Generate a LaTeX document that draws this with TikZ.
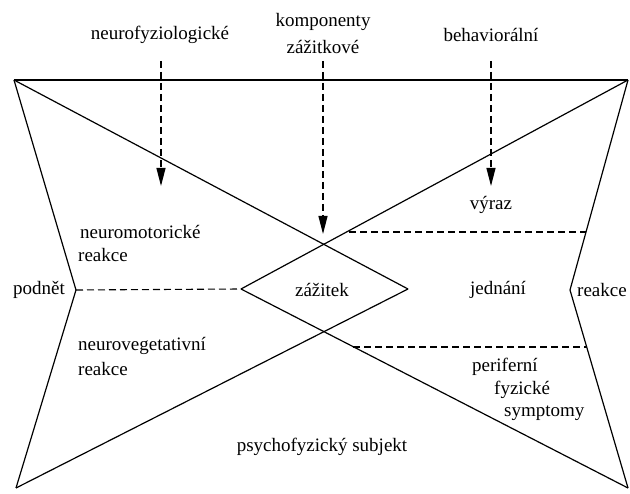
\documentclass[tikz,border=0pt]{standalone}
\usepackage{fontspec}
\setmainfont{Liberation Serif}
\usetikzlibrary{arrows.meta}
\begin{document}
\begin{tikzpicture}[x=1pt,y=-1pt,
  lbl/.style={inner sep=0pt,font=\fontsize{19}{22}\selectfont},
  lbll/.style={lbl,anchor=west},
  edge/.style={line width=1.2pt,line join=miter},
  dashline/.style={line width=1.1pt,dash pattern=on 7pt off 4pt},
  dasharrow/.style={dashline,-{Triangle[length=18pt,width=9pt]}}]
\useasboundingbox (0,0) rectangle (630,494);
% outline vertices
\coordinate (TL) at (14,80);
\coordinate (TR) at (628,80);
\coordinate (BL) at (16,488);
\coordinate (BR) at (628,488);
\coordinate (LM) at (76,290);
\coordinate (RM) at (570,290);
% diamond
\coordinate (DL) at (241,289);
\coordinate (DR) at (408,289);
\coordinate (DT) at (323,244);
\coordinate (DB) at (323,334);
% outline
\draw[edge] (TL) -- (TR);
\draw[edge] (TL) -- (LM) -- (BL);
\draw[edge] (TR) -- (RM) -- (BR);
% crossing lines
\draw[edge] (TL) -- (DR);
\draw[edge] (TR) -- (DL);
\draw[edge] (BL) -- (DR);
\draw[edge] (BR) -- (DL);
% dashed lines
\draw[dashline] (LM) -- (DL);
\coordinate (U1) at (349,232);
\coordinate (U2) at (586,232);
\coordinate (L1) at (353,347);
\coordinate (L2) at (587,347);
\draw[dashline] (U1) -- (U2);
\draw[dashline] (L1) -- (L2);
% labels
\node[lbl] (nf) at (160,35) {neurofyziologické};
\node[lbl] (komp) at (323,22) {komponenty};
\node[lbl] (zaz) at (323,47) {zážitkové};
\node[lbl] (beh) at (491,35) {behaviorální};
\node[lbl] (vyraz) at (491,205) {výraz};
\node[lbll] (nm1) at (80,232) {neuromotorické};
\node[lbll] (nm2) at (78,255) {reakce};
\node[lbl] (podnet) at (39,290) {podnět};
\node[lbl] (zazitek) at (322,290) {zážitek};
\node[lbl] (jednani) at (498,290) {jednání};
\node[lbll] (reakce) at (577,290) {reakce};
\node[lbll] (nv1) at (78,346) {neurovegetativní};
\node[lbll] (nv2) at (78,369) {reakce};
\node[lbll] (per) at (472,367) {periferní};
\node[lbll] (fyz) at (494,390) {fyzické};
\node[lbll] (sym) at (504,413) {symptomy};
\node[lbl] (psych) at (322,447) {psychofyzický subjekt};
% dashed arrows
\coordinate (A1s) at (161,61);
\coordinate (A1e) at (161,186);
\coordinate (A2s) at (323,61);
\coordinate (A2e) at (323,234);
\coordinate (A3s) at (491,61);
\coordinate (A3e) at (491,186);
\draw[dasharrow] (A1s) -- (A1e);
\draw[dasharrow] (A2s) -- (A2e);
\draw[dasharrow] (A3s) -- (A3e);
\end{tikzpicture}
\end{document}
